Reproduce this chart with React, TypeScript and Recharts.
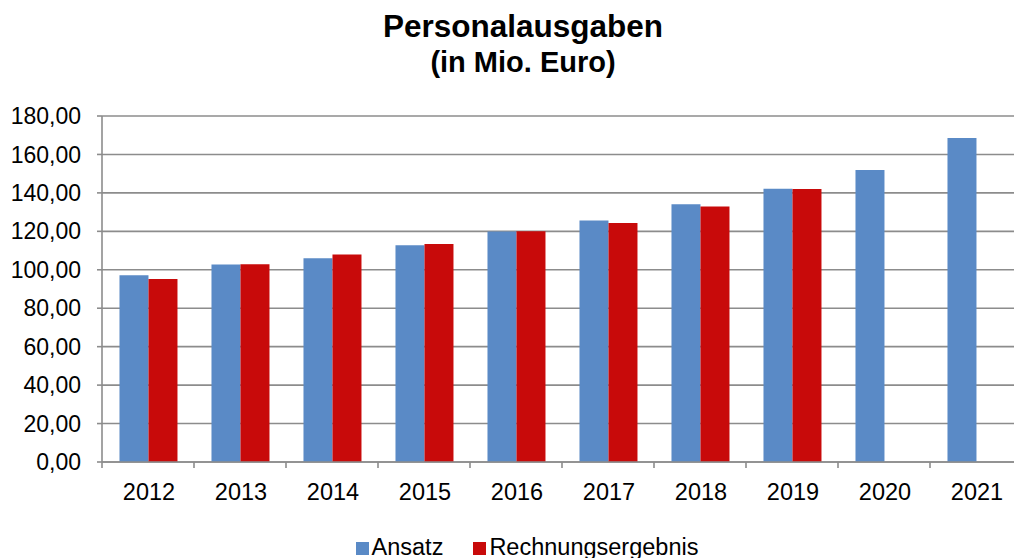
import { BarChart, Bar, XAxis, YAxis, CartesianGrid } from 'recharts';

// Jahre und Werte (in Mio. Euro)
const years = ['2012', '2013', '2014', '2015', '2016', '2017', '2018', '2019', '2020', '2021'];
const ansatz = [97.1, 102.7, 106.0, 112.7, 119.9, 125.6, 134.1, 142.2, 151.9, 168.6];
const rechnungsergebnis: (number | null)[] = [95.2, 102.9, 107.9, 113.4, 120.0, 124.4, 132.9, 142.0, null, null];
const yTicks = [0, 20, 40, 60, 80, 100, 120, 140, 160, 180];

const seriesNames = ['Ansatz', 'Rechnungsergebnis'];
const seriesColors = ['#5a8ac6', '#c80a0a'];

const FONT = '"Liberation Sans", Arial, sans-serif';
const GRID = '#8c8c8c';

const CHART_W = 1046;
const CHART_H = 558;
const MARGIN = { top: 116, right: 24, bottom: 46, left: 0 };
const Y_AXIS_W = 102;

const data = years.map((year, i) => ({
  year,
  ansatz: ansatz[i],
  rechnung: rechnungsergebnis[i],
}));

const formatDe = (v: number) => v.toFixed(2).replace('.', ',');

function YearTick(props: any) {
  const { x, y, payload } = props;
  const step = (CHART_W - MARGIN.left - MARGIN.right - Y_AXIS_W) / years.length;
  return (
    <g>
      <line x1={x - step / 2} x2={x - step / 2} y1={y} y2={y + 6} stroke={GRID} strokeWidth={1.6} />
      <text x={x + 1} y={y + 38} textAnchor="middle" fontSize={23.5} fontFamily={FONT} fill="#000">
        {payload.value}
      </text>
    </g>
  );
}

export default function App() {
  return (
    <div
      style={{
        position: 'absolute',
        top: 0,
        left: 0,
        width: 1014,
        height: 558,
        overflow: 'hidden',
        background: '#fff',
        fontFamily: FONT,
      }}
    >
      <div
        style={{
          position: 'absolute',
          top: 10.5,
          left: 0,
          width: CHART_W,
          textAlign: 'center',
          fontSize: 31.5,
          lineHeight: '31.5px',
          fontWeight: 'bold',
        }}
      >
        Personalausgaben
      </div>
      <div
        style={{
          position: 'absolute',
          top: 48,
          left: 0,
          width: CHART_W,
          textAlign: 'center',
          fontSize: 29,
          lineHeight: '29px',
          fontWeight: 'bold',
        }}
      >
        (in Mio. Euro)
      </div>

      <BarChart
        width={CHART_W}
        height={CHART_H}
        data={data}
        margin={MARGIN}
        barCategoryGap="19%"
        barGap={0}
      >
        <CartesianGrid vertical={false} stroke={GRID} strokeWidth={1.6} />
        <XAxis
          dataKey="year"
          height={50}
          axisLine={{ stroke: GRID, strokeWidth: 1.6 }}
          tickLine={false}
          tickSize={0}
          tickMargin={0}
          tick={<YearTick />}
          interval={0}
        />
        <YAxis
          width={Y_AXIS_W}
          domain={[0, 180]}
          ticks={yTicks}
          interval={0}
          tickFormatter={formatDe}
          axisLine={{ stroke: GRID, strokeWidth: 1.6 }}
          tickLine={{ stroke: GRID, strokeWidth: 1.6 }}
          tickSize={5}
          tickMargin={16}
          tick={{ fontSize: 23, fontFamily: FONT, fill: '#000' }}
        />
        <Bar dataKey="ansatz" name={seriesNames[0]} fill={seriesColors[0]} isAnimationActive={false} />
        <Bar dataKey="rechnung" name={seriesNames[1]} fill={seriesColors[1]} isAnimationActive={false} />
      </BarChart>

      <div
        style={{
          position: 'absolute',
          top: 535.5,
          left: 0,
          width: CHART_W + 8,
          display: 'flex',
          justifyContent: 'center',
          gap: 30,
          fontSize: 23.5,
          lineHeight: '23.5px',
        }}
      >
        {seriesNames.map((name, i) => (
          <div key={name} style={{ display: 'flex', alignItems: 'center' }}>
            <span
              style={{
                display: 'inline-block',
                width: 13,
                height: 13,
                background: seriesColors[i],
                marginRight: 3,
                marginTop: 3,
              }}
            />
            <span>{name}</span>
          </div>
        ))}
      </div>
    </div>
  );
}
